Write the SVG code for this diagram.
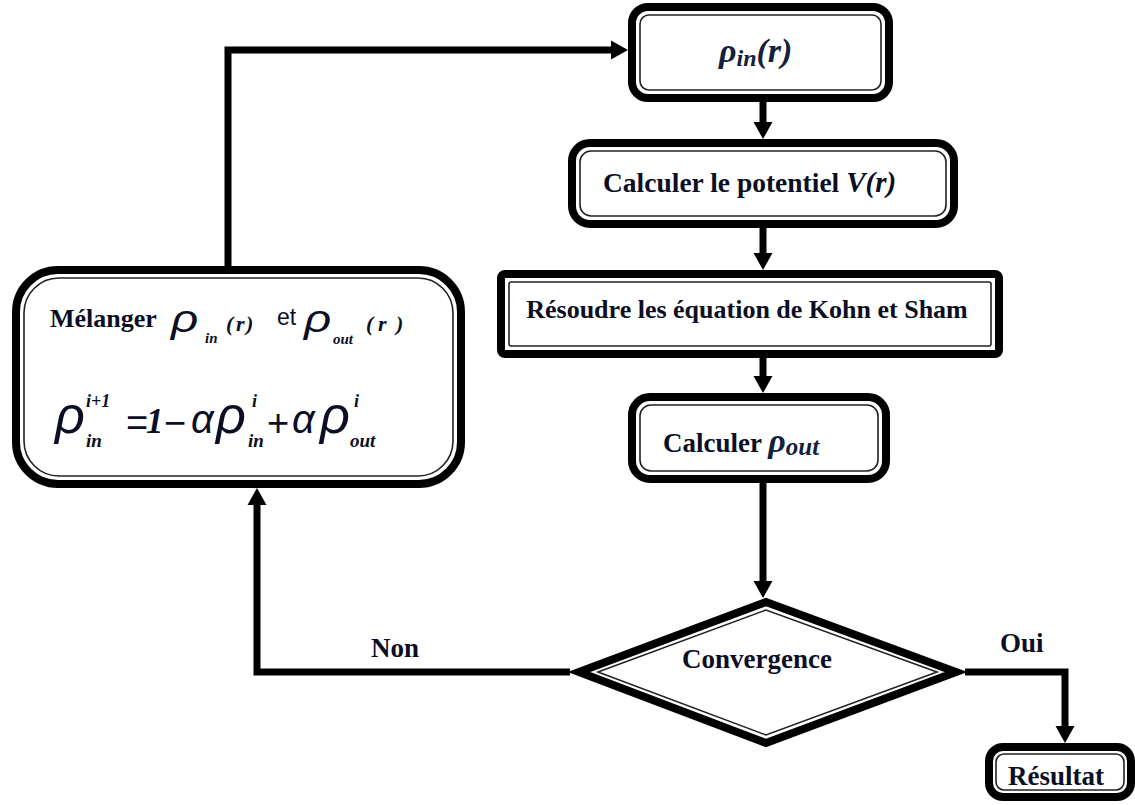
<svg xmlns="http://www.w3.org/2000/svg" width="1135" height="805" viewBox="0 0 1135 805">
<style>
.outer{fill:#fff;stroke:#000;stroke-width:8;stroke-linejoin:round}
.inner{fill:none;stroke:#222;stroke-width:1.6}
.conn{fill:none;stroke:#000;stroke-width:7;stroke-linejoin:miter}
.t{font-family:"Liberation Serif","Times New Roman",serif;font-weight:bold;fill:#0c0f24}
.m{font-family:"Liberation Serif","Times New Roman",serif;font-weight:bold;font-style:italic;fill:#14213d}
.g{font-family:"Liberation Sans",Arial,sans-serif;font-style:italic;fill:#0c0f24}
.s{font-family:"Liberation Serif","Times New Roman",serif;font-weight:bold;font-style:italic;fill:#0c0f24}
.op{font-family:"Liberation Sans",Arial,sans-serif;fill:#0c0f24}
</style>
<defs>
<marker id="arr" markerUnits="userSpaceOnUse" markerWidth="20" markerHeight="20" viewBox="0 0 18 20" refX="3" refY="10" orient="auto">
<path d="M0,0.5 L17,10 L0,19.5 z" fill="#000"/>
</marker>
</defs>
<g id="connectors">
<path class="conn" d="M228,268 V50 H614" marker-end="url(#arr)"/>
<path class="conn" d="M763,100 V125" marker-end="url(#arr)"/>
<path class="conn" d="M763,226 V256" marker-end="url(#arr)"/>
<path class="conn" d="M763,356 V379" marker-end="url(#arr)"/>
<path class="conn" d="M763,481 V584" marker-end="url(#arr)"/>
<path class="conn" d="M570,672 H257 V502" marker-end="url(#arr)"/>
<path class="conn" d="M965,672 H1065 V729" marker-end="url(#arr)"/>
</g>
<g id="node-rho-in">
<rect class="outer" x="632" y="7" width="257" height="91" rx="16"/>
<rect class="inner" x="640" y="15" width="241" height="75" rx="9"/>
<text class="m" x="719" y="62" font-size="34">ρ<tspan font-size="24" dy="4">in</tspan><tspan font-size="34" dy="-4">(r)</tspan></text>
</g>
<g id="node-potentiel">
<rect class="outer" x="572" y="143" width="382" height="81" rx="18"/>
<rect class="inner" x="580" y="151" width="366" height="65" rx="11"/>
<text class="t" x="603" y="192" font-size="27.5">Calculer le potentiel <tspan font-style="italic" font-size="29">V(r)</tspan></text>
</g>
<g id="node-kohn-sham">
<rect class="outer" x="501" y="274" width="498" height="80" rx="4"/>
<rect class="inner" x="509" y="282" width="482" height="64" rx="2"/>
<text class="t" x="747" y="318" font-size="26" text-anchor="middle">Résoudre les équation de Kohn et Sham</text>
</g>
<g id="node-rho-out">
<rect class="outer" x="632" y="397" width="254" height="82" rx="18"/>
<rect class="inner" x="640" y="405" width="238" height="66" rx="11"/>
<text class="t" x="663" y="452" font-size="27">Calculer <tspan class="m" font-size="34">ρ</tspan><tspan class="m" font-size="25" dy="3">out</tspan></text>
</g>
<g id="node-melanger">
<rect class="outer" x="16" y="270" width="445" height="214" rx="42"/>
<rect class="inner" x="24" y="278" width="429" height="198" rx="35"/>
<text class="t" x="50" y="327" font-size="26">Mélanger</text>
<text class="g" transform="translate(171,332) scale(1.25,1)" font-size="38">ρ</text>
<text class="s" x="205" y="343" font-size="15">in</text>
<text class="s" x="226" y="331" font-size="22">(</text>
<text class="s" x="236" y="331" font-size="22">r</text>
<text class="s" x="246" y="331" font-size="22">)</text>
<text class="op" x="277" y="325" font-size="23">et</text>
<text class="g" transform="translate(304,332) scale(1.25,1)" font-size="38">ρ</text>
<text class="s" x="333" y="344" font-size="15">out</text>
<text class="s" x="366" y="331" font-size="22">(</text>
<text class="s" x="378" y="331" font-size="22">r</text>
<text class="s" x="396" y="331" font-size="22">)</text>
<text class="g" x="55" y="433" font-size="52">ρ</text>
<text class="s" x="86" y="407" font-size="18">i+1</text>
<text class="s" x="86" y="447" font-size="19">in</text>
<text class="op" x="126" y="436" font-size="38">=</text>
<text class="s" x="146" y="433" font-size="35" font-weight="normal">1</text>
<text class="op" x="164" y="436" font-size="38">−</text>
<text class="g" x="191" y="433" font-size="40">α</text>
<text class="g" x="216" y="433" font-size="52">ρ</text>
<text class="s" x="252" y="407" font-size="18">i</text>
<text class="s" x="248" y="447" font-size="19">in</text>
<text class="op" x="267" y="436" font-size="38">+</text>
<text class="g" x="292" y="433" font-size="40">α</text>
<text class="g" x="320" y="433" font-size="52">ρ</text>
<text class="s" x="354" y="407" font-size="18">i</text>
<text class="s" x="350" y="447" font-size="19">out</text>
</g>
<g id="node-convergence">
<polygon class="outer" points="579,672 766,602 956,672 766,743" style="stroke-linejoin:miter;stroke-miterlimit:10"/>
<polygon class="inner" points="598,672 766,610 937,672 766,735"/>
<text class="t" x="757" y="668" font-size="27" text-anchor="middle">Convergence</text>
</g>
<g id="labels">
<text class="t" x="371" y="657" font-size="27">Non</text>
<text class="t" x="1000" y="652" font-size="27">Oui</text>
</g>
<g id="node-resultat">
<rect class="outer" x="989" y="747" width="142" height="50" rx="14"/>
<rect class="inner" x="996" y="754" width="128" height="36" rx="8"/>
<text class="t" x="1056" y="785" font-size="27" text-anchor="middle">Résultat</text>
</g>
</svg>
